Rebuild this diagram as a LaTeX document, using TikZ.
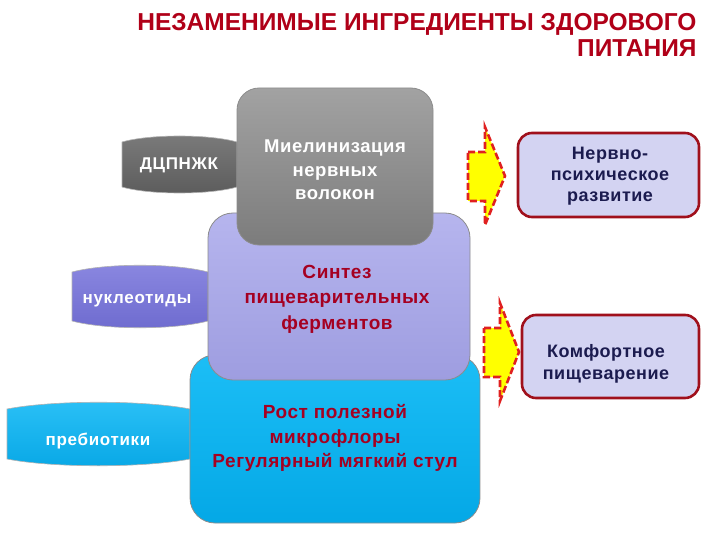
\documentclass[tikz,border=0pt]{standalone}
\usepackage{fontspec}
\setmainfont{Liberation Sans}
\definecolor{titlered}{HTML}{B00018}
\definecolor{darkred}{HTML}{A50021}
\definecolor{navy}{HTML}{1B1B4F}
\definecolor{grayT}{HTML}{A2A2A2}
\definecolor{grayB}{HTML}{7C7C7C}
\definecolor{purT}{HTML}{B6B5EE}
\definecolor{purB}{HTML}{9E9DE0}
\definecolor{bluT}{HTML}{1CBEF6}
\definecolor{bluB}{HTML}{04A8E6}
\definecolor{pillgrayT}{HTML}{7A7A7A}
\definecolor{pillgrayB}{HTML}{5C5C5C}
\definecolor{pillpurT}{HTML}{8A87E0}
\definecolor{pillpurB}{HTML}{6E6BCF}
\definecolor{pillblueT}{HTML}{2AC0F6}
\definecolor{pillblueB}{HTML}{08A8E6}
\definecolor{lightbox}{HTML}{D3D3F2}
\definecolor{boxborder}{HTML}{A0101C}
\definecolor{arrowred}{HTML}{E02020}
\definecolor{arrowyel}{HTML}{FFFF00}
\newfontfamily\spacedfont[LetterSpace=3]{Liberation Sans}
\newfontfamily\pillfont[LetterSpace=4]{Liberation Sans}
\newfontfamily\resfont[LetterSpace=3]{Liberation Sans}
\begin{document}
\begin{tikzpicture}[x=1pt,y=-1pt,
  bigbox/.style={rectangle, rounded corners=22pt, draw=black!45, line width=0.8pt, inner sep=0pt},
  boxtext/.style={align=center, font=\spacedfont\bfseries\fontsize{19}{24.5}\selectfont},
  pilltext/.style={text=white, font=\pillfont\bfseries\fontsize{17}{18}\selectfont},
  resbox/.style={rectangle, rounded corners=14pt, draw=boxborder, line width=2.6pt, fill=lightbox, inner sep=0pt},
  restext/.style={align=center, text=navy, font=\resfont\bfseries\fontsize{18}{21}\selectfont},
  fatarrow/.style={fill=arrowyel, draw=arrowred, line width=2.6pt, dash pattern=on 7pt off 3pt, line join=miter},
  pill/.style={draw=black!30, line width=0.6pt},
  titletext/.style={anchor=base east, text=titlered, font=\bfseries\fontsize{24.5}{28}\selectfont}
]
\useasboundingbox (0,0) rectangle (720,540);

% title
\node[titletext] (title1) at (700,31) {НЕЗАМЕНИМЫЕ ИНГРЕДИЕНТЫ ЗДОРОВОГО};
\node[titletext] (title2) at (700,57) {ПИТАНИЯ};

% pills (behind the boxes)
\path[pill, top color=pillgrayT, bottom color=pillgrayB] (122,142) .. controls (150,134) and (209,134) .. (237,142) -- (237,187) .. controls (209,195) and (150,195) .. (122,187) -- cycle;
\path[pill, top color=pillpurT, bottom color=pillpurB] (72,272) .. controls (106,263) and (174,263) .. (208,272) -- (208,321) .. controls (174,330) and (106,330) .. (72,321) -- cycle;
\path[pill, top color=pillblueT, bottom color=pillblueB] (7,409) .. controls (53,400) and (144,400) .. (190,409) -- (190,459) .. controls (144,468) and (53,468) .. (7,459) -- cycle;

% main boxes
\node[bigbox, rounded corners=25pt, top color=bluT, bottom color=bluB, minimum width=290pt, minimum height=168pt] (blue) at (335,439) {};
\node[bigbox, rounded corners=25pt, top color=purT, bottom color=purB, minimum width=262pt, minimum height=167pt] (purple) at (339,296.5) {};
\node[bigbox, top color=grayT, bottom color=grayB, minimum width=196pt, minimum height=157pt] (gray) at (335,166.5) {};

\node[boxtext, text=white, font=\spacedfont\bfseries\fontsize{18.5}{23.5}\selectfont] (graytext) at (335,170) {Миелинизация\\нервных\\волокон};
\node[boxtext, text=darkred, font=\spacedfont\bfseries\fontsize{19}{25.5}\selectfont] (purtext) at (337,299) {Синтез\\пищеварительных\\ферментов};
\node[boxtext, text=darkred] (blutext) at (335,438) {Рост полезной\\микрофлоры\\Регулярный мягкий стул};

\node[pilltext] (dcp) at (179,165) {ДЦПНЖК};
\node[pilltext] (nuc) at (137,301) {нуклеотиды};
\node[pilltext] (preb) at (98,441) {пребиотики};

% arrows
\path[fatarrow] (468,152) -- (485,152) -- (485,127) -- (505,176) -- (485,225) -- (485,201) -- (468,201) -- cycle;
\path[fatarrow] (484,328) -- (500,328) -- (500,303) -- (519,352) -- (500,401) -- (500,377) -- (484,377) -- cycle;

% result boxes
\node[resbox, minimum width=181pt, minimum height=84pt] (res1) at (608.5,175) {};
\node[restext] (res1text) at (610,176) {Нервно-\\психическое\\развитие};
\node[resbox, minimum width=177pt, minimum height=83pt] (res2) at (610.5,356.5) {};
\node[restext, font=\resfont\bfseries\fontsize{18}{22}\selectfont] (res2text) at (606,364) {Комфортное\\пищеварение};
\end{tikzpicture}
\end{document}
